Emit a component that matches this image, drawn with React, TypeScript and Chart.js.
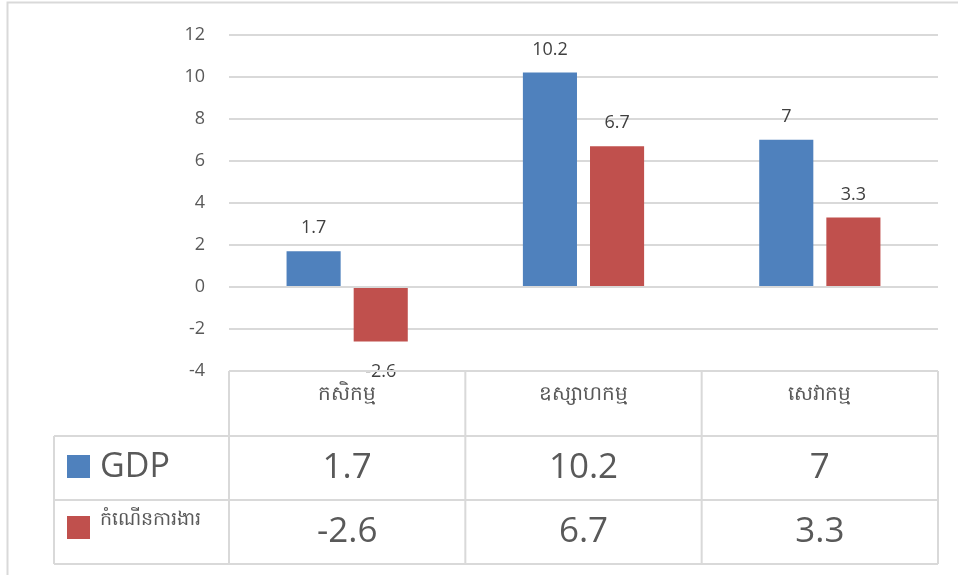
import React, { useEffect, useRef } from "react";
import { Chart, registerables } from "chart.js";

Chart.register(...registerables);

const categories = ["កសិកម្ម", "ឧស្សាហកម្ម", "សេវាកម្ម"];
const seriesNames = ["GDP", "កំណើនការងារ"];
const gdpValues = [1.7, 10.2, 7];
const employmentValues = [-2.6, 6.7, 3.3];
const seriesColors = ["#4F81BD", "#C0504D"];
const yMin = -4;
const yMax = 12;
const yStep = 2;

const FONT = "'Open Sans', 'Noto Sans', sans-serif";
const LINE = "#D9D9D9";

const labelPlugin = {
  id: "barLabels",
  afterDatasetsDraw(chart: any) {
    const ctx = chart.ctx;
    ctx.save();
    ctx.font = `18px ${FONT}`;
    ctx.fillStyle = "#404040";
    ctx.textAlign = "center";
    ctx.textBaseline = "alphabetic";
    chart.data.datasets.forEach((ds: any, di: number) => {
      const meta = chart.getDatasetMeta(di);
      meta.data.forEach((bar: any, i: number) => {
        const v = ds.data[i];
        const y = v >= 0 ? bar.y - 18 : bar.y + 35;
        ctx.fillText(String(v), bar.x, y);
      });
    });
    ctx.restore();
  },
};

const tablePlugin = {
  id: "dataTable",
  beforeDraw(chart: any) {
    const ctx = chart.ctx;
    ctx.save();
    ctx.strokeStyle = LINE;
    ctx.lineWidth = 2;
    ctx.beginPath();
    ctx.moveTo(7.5, 575);
    ctx.lineTo(7.5, 2.5);
    ctx.lineTo(958, 2.5);
    ctx.stroke();
    ctx.restore();
  },
  afterDraw(chart: any) {
    const ctx = chart.ctx;
    const xs = chart.scales.x;
    const area = chart.chartArea;
    const n = categories.length;
    const colW = (area.right - area.left) / n;
    const top = area.bottom;
    const rowTops = [top, top + 65, top + 129, top + 193];
    const legendLeft = 54;

    ctx.save();
    ctx.strokeStyle = LINE;
    ctx.lineWidth = 2;
    ctx.beginPath();
    ctx.moveTo(area.left, rowTops[0]);
    ctx.lineTo(area.right, rowTops[0]);
    for (let i = 0; i <= n; i++) {
      const x = i === n ? xs.getPixelForValue(n - 1) + colW / 2 : xs.getPixelForValue(i) - colW / 2;
      ctx.moveTo(x, rowTops[0]);
      ctx.lineTo(x, rowTops[3]);
    }
    for (let r = 1; r <= 3; r++) {
      ctx.moveTo(legendLeft, rowTops[r]);
      ctx.lineTo(area.right, rowTops[r]);
    }
    ctx.moveTo(legendLeft, rowTops[1]);
    ctx.lineTo(legendLeft, rowTops[3]);
    ctx.stroke();

    ctx.fillStyle = "#595959";
    ctx.textAlign = "center";
    ctx.textBaseline = "middle";
    ctx.font = `20px ${FONT}`;
    categories.forEach((c, i) => {
      ctx.fillText(c, xs.getPixelForValue(i), rowTops[0] + 23);
    });

    const rowData = [gdpValues, employmentValues];
    rowData.forEach((vals, r) => {
      const y0 = rowTops[r + 1];
      const y1 = rowTops[r + 2];
      const cy = (y0 + y1) / 2;
      ctx.fillStyle = seriesColors[r];
      const sy = r === 0 ? cy - 13 : cy - 16;
      ctx.fillRect(67, sy, 23, 23);
      ctx.fillStyle = "#595959";
      ctx.textAlign = "left";
      if (r === 0) {
        ctx.font = `34px ${FONT}`;
        ctx.fillText(seriesNames[r], 100, cy - 1);
      } else {
        ctx.font = `19px ${FONT}`;
        ctx.fillText(seriesNames[r], 100, cy - 12);
      }
      ctx.textAlign = "center";
      ctx.font = `35px ${FONT}`;
      vals.forEach((v, i) => {
        ctx.fillText(String(v), xs.getPixelForValue(i), cy);
      });
    });
    ctx.restore();
  },
};

export default function App() {
  const ref = useRef<HTMLCanvasElement | null>(null);
  useEffect(() => {
    if (!ref.current) return;
    const chart = new Chart(ref.current, {
      type: "bar",
      data: {
        labels: categories,
        datasets: [
          {
            label: seriesNames[0],
            data: gdpValues,
            backgroundColor: seriesColors[0],
            borderWidth: 0,
            categoryPercentage: 0.568,
            barPercentage: 0.806,
          },
          {
            label: seriesNames[1],
            data: employmentValues,
            backgroundColor: seriesColors[1],
            borderWidth: 0,
            categoryPercentage: 0.568,
            barPercentage: 0.806,
          },
        ],
      },
      options: {
        animation: false,
        responsive: false,
        maintainAspectRatio: false,
        devicePixelRatio: 1,
        layout: { padding: { left: 0, right: 20, top: 31, bottom: 204 } },
        plugins: {
          legend: { display: false },
          tooltip: { enabled: false },
          title: { display: false },
        },
        scales: {
          x: { display: false },
          y: {
            min: yMin,
            max: yMax,
            ticks: {
              stepSize: yStep,
              padding: 24,
              color: "#595959",
              font: { family: FONT, size: 18 },
            },
            grid: { color: LINE, lineWidth: 2, drawTicks: false },
            border: { display: false },
            afterFit: (scale: any) => {
              scale.width = 229;
            },
          },
        },
      },
      plugins: [labelPlugin, tablePlugin],
    });
    return () => chart.destroy();
  }, []);
  return (
    <div style={{ position: "absolute", left: 0, top: 0, width: 958, height: 575, background: "#fff" }}>
      <canvas ref={ref} width={958} height={575} style={{ width: 958, height: 575, display: "block" }} />
    </div>
  );
}
